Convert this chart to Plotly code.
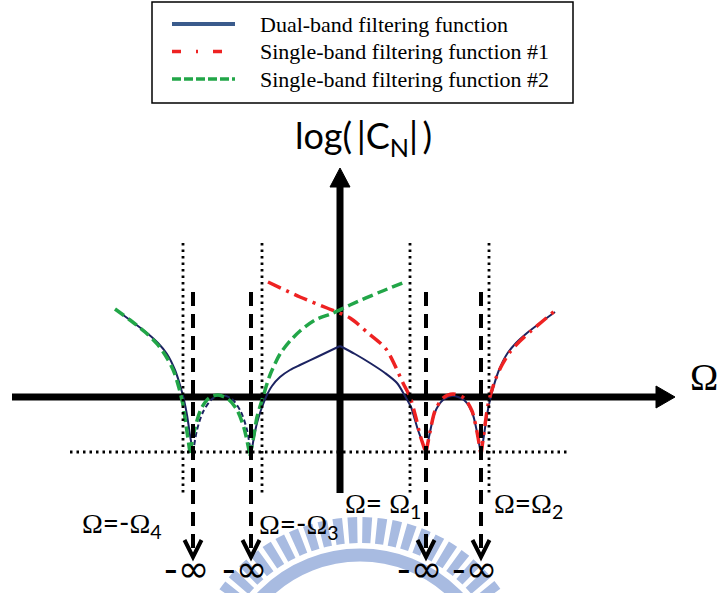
import plotly.graph_objects as go

# ---------------------------------------------------------------------------
# Sketch values: log|C_N| (vertical) against normalised frequency Omega.
# Each curve is split at its cusps (transmission zeros and the Omega=0 peak)
# so the spline smoothing keeps those corners sharp.
# ---------------------------------------------------------------------------

# Dual-band filtering function
dual_left_x = [-22.1, -20.6, -19.3, -18.2, -17.3, -16.5, -16.0, -15.6, -15.3, -15.0, -14.7]
dual_left_y = [8.5, 7.4, 6.4, 5.4, 4.3, 2.7, 1.2, -0.3, -1.8, -3.8, -5.6]
dual_bump_x = [-14.7, -14.3, -13.7, -12.8, -11.8, -10.8, -9.9, -9.3, -8.9]
dual_bump_y = [-5.6, -3.3, -1.5, -0.2, 0.2, -0.2, -1.5, -3.3, -5.8]
dual_midl_x = [-8.9, -8.6, -8.3, -7.9, -7.4, -6.8, -6.0, -5.0, -4.0, -2.3, 0.0]
dual_midl_y = [-5.8, -4.0, -2.6, -1.3, 0.0, 1.1, 2.0, 2.7, 3.2, 4.0, 5.1]
dual_midr_x = [0.0, 1.5, 3.0, 4.5, 5.7, 6.5, 7.1, 7.5, 7.8, 8.2, 8.6]
dual_midr_y = [5.1, 4.3, 3.4, 2.4, 1.4, 0.1, -1.0, -2.3, -3.3, -4.4, -5.6]
dual_bumpr_x = [8.6, 9.0, 9.5, 10.3, 11.3, 12.4, 13.2, 13.7, 14.1]
dual_bumpr_y = [-5.6, -3.5, -1.5, -0.3, 0.1, -0.3, -1.5, -3.5, -5.8]
dual_right_x = [14.1, 14.4, 14.7, 15.0, 15.4, 15.9, 16.7, 17.6, 18.7, 20.0, 21.5]
dual_right_y = [-5.8, -3.8, -1.8, -0.3, 1.2, 2.7, 4.3, 5.4, 6.4, 7.4, 8.5]

# Single-band filtering function #1 (upper band)
sb1_mid_x = [-7.2, -4.0, -1.3, 1.0, 2.8, 4.6, 6.3, 7.0, 7.6, 8.0, 8.6]
sb1_mid_y = [11.5, 10.0, 8.9, 7.9, 6.4, 4.8, 1.4, 0.0, -2.1, -3.8, -5.6]
sb1_bump_x = [8.6, 9.0, 9.5, 10.3, 11.3, 12.4, 13.2, 13.7, 14.1]
sb1_bump_y = [-5.6, -3.5, -1.4, -0.1, 0.3, -0.1, -1.4, -3.5, -5.8]
sb1_right_x = [14.1, 14.5, 14.8, 15.1, 15.6, 16.2, 17.0, 18.0, 19.1, 20.4, 21.7]
sb1_right_y = [-5.8, -2.8, -0.8, 0.4, 1.9, 3.2, 4.5, 5.6, 6.6, 7.7, 8.8]

# Single-band filtering function #2 (lower band)
sb2_left_x = [-22.5, -21.0, -19.5, -18.2, -17.3, -16.6, -16.1, -15.7, -15.4, -15.0]
sb2_left_y = [8.8, 7.7, 6.5, 5.2, 3.9, 2.5, 0.9, -0.8, -2.8, -5.6]
sb2_bump_x = [-15.0, -14.5, -13.9, -13.1, -12.2, -11.2, -10.3, -9.6, -9.0]
sb2_bump_y = [-5.6, -3.1, -1.2, -0.1, 0.2, -0.2, -1.3, -3.1, -5.9]
sb2_mid_x = [-9.0, -8.6, -8.3, -7.7, -7.0, -6.0, -5.0, -4.0, -2.5, -0.7, 1.0, 4.0, 6.5]
sb2_mid_y = [-5.9, -3.8, -2.0, 0.0, 2.2, 4.3, 5.6, 6.6, 7.7, 8.4, 9.2, 10.5, 11.5]

# Transmission zeros (log|C_N| -> -inf) and passband edges
zero_freqs = [-14.7, -8.9, 8.6, 14.1]
edge_freqs = [-15.7, -7.8, 7.0, 14.9]
floor_level = -5.5

zero_labels = ["-∞", "-∞", "-∞", "-∞"]
legend_labels = [
    "Dual-band filtering function",
    "Single-band filtering function #1",
    "Single-band filtering function #2",
]

NAVY = "#1c2361"
RED = "#ee2222"
GREEN = "#22a648"
WM = "#a8bbe1"
SERIF = "Liberation Serif"
SANS = "Lato"
LABEL_SIZE = 28


def join(*segs):
    """Concatenate (x, y) segments with gaps so each is splined on its own."""
    xs, ys = [], []
    for sx, sy in segs:
        if xs:
            xs.append(None)
            ys.append(None)
        xs += sx
        ys += sy
    return xs, ys


fig = go.Figure()

dx, dy = join((dual_left_x, dual_left_y), (dual_midl_x, dual_midl_y),
              (dual_midr_x, dual_midr_y), (dual_bumpr_x, dual_bumpr_y),
              (dual_right_x, dual_right_y))
fig.add_trace(go.Scatter(x=dx, y=dy, mode="lines", line=dict(color=NAVY, width=2, shape="spline", smoothing=0.8),
                         connectgaps=False, showlegend=False, hoverinfo="skip"))
fig.add_trace(go.Scatter(x=dual_bump_x, y=dual_bump_y, mode="lines",
                         line=dict(color=NAVY, width=2, dash="5px,3px", shape="spline", smoothing=0.8),
                         showlegend=False, hoverinfo="skip"))

rx, ry = join((sb1_mid_x, sb1_mid_y), (sb1_bump_x, sb1_bump_y), (sb1_right_x, sb1_right_y))
fig.add_trace(go.Scatter(x=rx, y=ry, mode="lines",
                         line=dict(color=RED, width=3.5, dash="14px,6px,3px,6px", shape="spline", smoothing=0.8),
                         connectgaps=False, showlegend=False, hoverinfo="skip"))

gx, gy = join((sb2_left_x, sb2_left_y), (sb2_bump_x, sb2_bump_y), (sb2_mid_x, sb2_mid_y))
fig.add_trace(go.Scatter(x=gx, y=gy, mode="lines",
                         line=dict(color=GREEN, width=3.5, dash="11px,5px", shape="spline", smoothing=0.8),
                         connectgaps=False, showlegend=False, hoverinfo="skip"))

shapes = []
annotations = []

# University seal watermark behind the sketch (toothed ring + solid ring)
wm_cx, wm_cy = 2.0, -29.3
for r, w, dash in [(16.0, 26, "9px,5px"), (13.5, 13, "solid")]:
    shapes.append(dict(type="circle", xref="x", yref="y", layer="below",
                       x0=wm_cx - r, x1=wm_cx + r, y0=wm_cy - r, y1=wm_cy + r,
                       line=dict(color=WM, width=w, dash=dash)))

# Main axes (drawn beneath the curves) with filled arrowheads
h_axis = dict(x0=-32.8, x1=31.6, tip=33.5, half=1.1)
v_axis = dict(y0=-9.6, y1=21.0, tip=22.9, half=1.0)
shapes.append(dict(type="line", xref="x", yref="y", layer="below", x0=h_axis["x0"], x1=h_axis["x1"],
                   y0=0, y1=0, line=dict(color="black", width=7)))
shapes.append(dict(type="path", xref="x", yref="y", layer="below", fillcolor="black",
                   path=f"M {h_axis['x1']},{h_axis['half']} L {h_axis['tip']},0 L {h_axis['x1']},{-h_axis['half']} Z",
                   line=dict(color="black", width=1)))
shapes.append(dict(type="line", xref="x", yref="y", layer="below", x0=0, x1=0,
                   y0=v_axis["y0"], y1=v_axis["y1"], line=dict(color="black", width=7)))
shapes.append(dict(type="path", xref="x", yref="y", layer="below", fillcolor="black",
                   path=f"M {-v_axis['half']},{v_axis['y1']} L 0,{v_axis['tip']} L {v_axis['half']},{v_axis['y1']} Z",
                   line=dict(color="black", width=1)))

# Dotted guides: passband edges and the floor level
for xe in edge_freqs:
    shapes.append(dict(type="line", xref="x", yref="y", x0=xe, x1=xe, y0=15.4, y1=-9.6,
                       line=dict(color="black", width=2.8, dash="2.5px,4px")))
shapes.append(dict(type="line", xref="x", yref="y", x0=-27.0, x1=23.0, y0=floor_level, y1=floor_level,
                   line=dict(color="black", width=2.8, dash="2.5px,4px")))

# Dashed arrows pointing at -infinity at each transmission zero
tip_y = -16.0
for xz, lab in zip(zero_freqs, zero_labels):
    shapes.append(dict(type="line", xref="x", yref="y", x0=xz, x1=xz, y0=10.5, y1=tip_y + 0.2,
                       line=dict(color="black", width=4, dash="14px,8px")))
    shapes.append(dict(type="path", xref="x", yref="y",
                       path=f"M {xz - 0.85},{tip_y + 1.7} L {xz},{tip_y} L {xz + 0.85},{tip_y + 1.7}",
                       line=dict(color="black", width=4)))
    annotations.append(dict(x=xz - 0.7, y=-19.55, xref="x", yref="y", text=lab, showarrow=False,
                            yanchor="bottom", font=dict(family="DejaVu Sans", size=38, color="black")))

annotations.append(dict(x=36.4, y=2.0, xref="x", yref="y", text="Ω", showarrow=False,
                        font=dict(family=SERIF, size=38, color="black")))
annotations.append(dict(x=2.3, y=26.0, xref="x", yref="y", text="log(\u2009|C<sub>N</sub>|\u2009)", showarrow=False,
                        font=dict(family=SANS, size=36, color="black")))


def om(s):
    return f'<span style="font-family:{SERIF};font-size:{LABEL_SIZE}px">{s}</span>'


freq_labels = [
    (-26.0, -12.7, om("Ω") + "=-" + om("Ω") + "<sub>4</sub>"),
    (-8.3, -12.8, om("Ω") + "=-" + om("Ω") + "<sub>3</sub>"),
    (0.3, -10.7, om("Ω") + "= " + om("Ω") + "<sub>1</sub>"),
    (15.2, -10.7, om("Ω") + "=" + om("Ω") + "<sub>2</sub>"),
]
for fx, fy, t in freq_labels:
    annotations.append(dict(x=fx, y=fy, xref="x", yref="y", text=t, showarrow=False, xanchor="left",
                            font=dict(family=SANS, size=LABEL_SIZE, color="black")))

# Legend box with line samples
shapes.append(dict(type="rect", xref="x", yref="y", x0=-18.8, x1=23.3, y0=39.5, y1=29.4,
                   line=dict(color="black", width=1.5), fillcolor="white"))
legend_styles = [("#3a5b8c", 4, "solid"), (RED, 3.5, "9px,15px,2px,15px"), (GREEN, 3.5, "9px,3px")]
for i, (lab, (c, w, d)) in enumerate(zip(legend_labels, legend_styles)):
    ly = 37.3 - 2.75 * i
    shapes.append(dict(type="line", xref="x", yref="y", x0=-16.8, x1=-10.5, y0=ly, y1=ly,
                       line=dict(color=c, width=w, dash=d)))
    annotations.append(dict(x=-8.2, y=ly, xref="x", yref="y", text=lab, showarrow=False, xanchor="left",
                            font=dict(family=SERIF, size=22, color="black")))

fig.update_layout(
    width=721, height=593, autosize=False,
    margin=dict(l=0, r=0, t=0, b=0),
    paper_bgcolor="white", plot_bgcolor="white",
    xaxis=dict(range=[-34.0, 38.1], visible=False, fixedrange=True),
    yaxis=dict(range=[-19.6, 39.7], visible=False, fixedrange=True),
    shapes=shapes, annotations=annotations, showlegend=False,
)

fig.write_html("out.html")
